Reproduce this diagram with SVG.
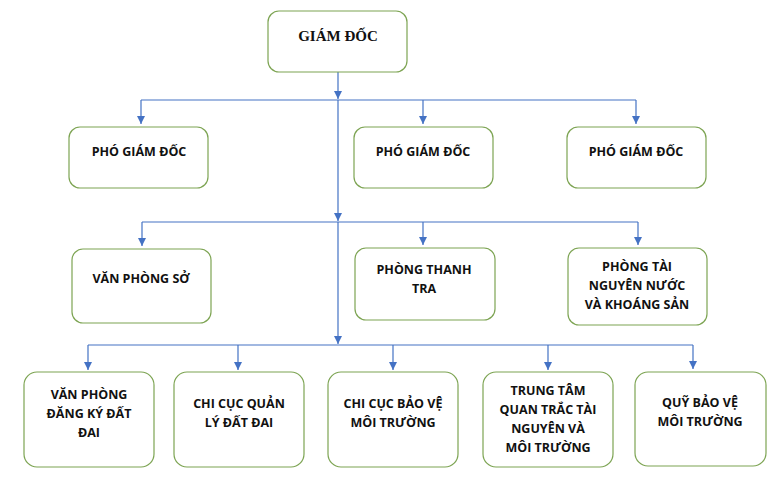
<svg xmlns="http://www.w3.org/2000/svg" width="779" height="485" viewBox="0 0 779 485">
<defs>
<marker id="ah" viewBox="0 0 10 10" refX="10" refY="5" markerWidth="8" markerHeight="8" markerUnits="userSpaceOnUse" orient="auto">
<path d="M0,0 L10,5 L0,10 Z" fill="#4472C4"/>
</marker>
<style>
.box{fill:#fff;stroke:#7DA453;stroke-width:1.2}
.t{font-family:"Open Sans",Lato,"Liberation Sans",sans-serif;font-weight:bold;font-size:12.5px;fill:#111;text-anchor:middle}
.s{font-family:"Liberation Serif",serif;font-weight:bold;font-size:15px;fill:#111;text-anchor:middle}
.c{fill:none;stroke:#4472C4;stroke-width:1.2}
.a{marker-end:url(#ah)}
</style>
</defs>
<rect width="779" height="485" fill="#fff"/>
<g id="connectors">
<path class="c a" d="M338,72 V99"/>
<path class="c" d="M141,100 H636"/>
<path class="c a" d="M141,100 V124"/>
<path class="c a" d="M423,100 V124"/>
<path class="c a" d="M636,100 V124"/>
<path class="c a" d="M338,100 V221"/>
<path class="c" d="M142,222 H638"/>
<path class="c a" d="M142,222 V246"/>
<path class="c a" d="M423,222 V245"/>
<path class="c a" d="M638,222 V245"/>
<path class="c a" d="M338,222 V344"/>
<path class="c" d="M88,345 H693"/>
<path class="c a" d="M88,345 V370"/>
<path class="c a" d="M238,345 V370"/>
<path class="c a" d="M393,345 V370"/>
<path class="c a" d="M548,345 V370"/>
<path class="c a" d="M693,345 V369"/>
</g>
<g id="giam-doc"><rect class="box" x="268" y="11" width="139" height="61" rx="11"/><text class="s" x="338" y="41">GIÁM ĐỐC</text></g>
<g id="pho-giam-doc-1"><rect class="box" x="69" y="127" width="139" height="61" rx="11"/><text class="t" x="139" y="156">PHÓ GIÁM ĐỐC</text></g>
<g id="pho-giam-doc-2"><rect class="box" x="354" y="127" width="139" height="61" rx="11"/><text class="t" x="423" y="156">PHÓ GIÁM ĐỐC</text></g>
<g id="pho-giam-doc-3"><rect class="box" x="567" y="127" width="139" height="61" rx="11"/><text class="t" x="636" y="156">PHÓ GIÁM ĐỐC</text></g>
<g id="van-phong-so"><rect class="box" x="72" y="249" width="139" height="74" rx="11"/><text class="t" x="141" y="283">VĂN PHÒNG SỞ</text></g>
<g id="phong-thanh-tra"><rect class="box" x="355" y="248" width="140" height="72" rx="11"/><text class="t" x="424" y="274">PHÒNG THANH</text><text class="t" x="424" y="293">TRA</text></g>
<g id="phong-tai-nguyen-nuoc"><rect class="box" x="568" y="248" width="139" height="77" rx="11"/><text class="t" x="637" y="271">PHÒNG TÀI</text><text class="t" x="637" y="290">NGUYÊN NƯỚC</text><text class="t" x="637" y="309">VÀ KHOÁNG SẢN</text></g>
<g id="van-phong-dang-ky"><rect class="box" x="24" y="372" width="130" height="95" rx="13"/><text class="t" x="89" y="399">VĂN PHÒNG</text><text class="t" x="89" y="418">ĐĂNG KÝ ĐẤT</text><text class="t" x="89" y="437">ĐAI</text></g>
<g id="chi-cuc-quan-ly"><rect class="box" x="174" y="372" width="130" height="95" rx="13"/><text class="t" x="239" y="408">CHI CỤC QUẢN</text><text class="t" x="239" y="427">LÝ ĐẤT ĐAI</text></g>
<g id="chi-cuc-bao-ve"><rect class="box" x="328" y="372" width="130" height="95" rx="13"/><text class="t" x="393" y="408">CHI CỤC BẢO VỆ</text><text class="t" x="393" y="427">MÔI TRƯỜNG</text></g>
<g id="trung-tam-quan-trac"><rect class="box" x="483" y="372" width="130" height="95" rx="13"/><text class="t" x="548" y="395">TRUNG TÂM</text><text class="t" x="548" y="414">QUAN TRẮC TÀI</text><text class="t" x="548" y="433">NGUYÊN VÀ</text><text class="t" x="548" y="452">MÔI TRƯỜNG</text></g>
<g id="quy-bao-ve"><rect class="box" x="635" y="372" width="131" height="94" rx="13"/><text class="t" x="700" y="407">QUỸ BẢO VỆ</text><text class="t" x="700" y="426">MÔI TRƯỜNG</text></g>
</svg>
